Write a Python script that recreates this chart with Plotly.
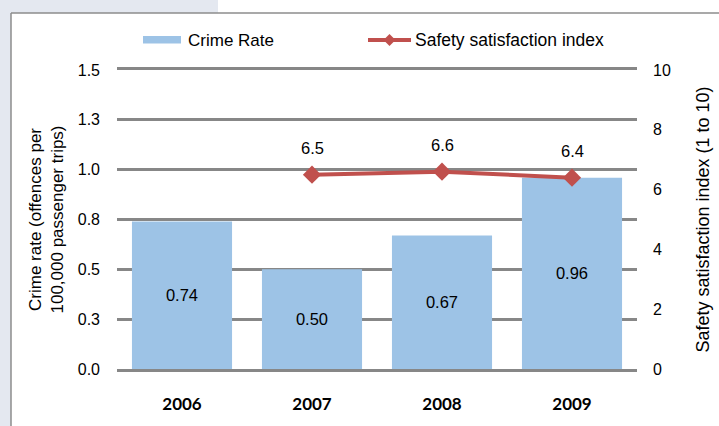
import plotly.graph_objects as go

# Data
years = ["2006", "2007", "2008", "2009"]
crime_rate = [0.74, 0.50, 0.67, 0.96]
satisfaction_years = ["2007", "2008", "2009"]
satisfaction_index = [6.5, 6.6, 6.4]

left_ticks = [0, 0.25, 0.5, 0.75, 1.0, 1.25, 1.5]
left_tick_text = ["0.0", "0.3", "0.5", "0.8", "1.0", "1.3", "1.5"]
right_ticks = [0, 2, 4, 6, 8, 10]

BAR_BLUE = "#9DC3E6"
LINE_RED = "#C0504D"
GRID_GRAY = "#878787"
FRAME_BG = "#E4E8F0"

W, H = 719, 426
ML, MR, MT, MB = 117, 82, 70, 57
PW, PH = W - ML - MR, H - MT - MB


def px(x):
    return (x - ML) / PW


def py(y):
    return (H - MB - y) / PH


fig = go.Figure()

fig.add_trace(go.Bar(
    x=years, y=crime_rate, name="Crime Rate",
    marker=dict(color=BAR_BLUE, line=dict(width=0)),
    text=[f"{v:.2f}" for v in crime_rate],
    textposition="inside", insidetextanchor="middle",
    textfont=dict(family="Liberation Sans, Arial", size=16.5, color="#000000"),
    showlegend=False,
))

fig.add_trace(go.Scatter(
    x=satisfaction_years, y=satisfaction_index, name="Safety satisfaction index",
    yaxis="y2", mode="lines+markers",
    line=dict(color=LINE_RED, width=4),
    marker=dict(symbol="diamond", size=14, color=LINE_RED),
    showlegend=False,
))

shapes = [
    # frame background strips
    dict(type="rect", xref="paper", yref="paper", layer="below",
         x0=px(0), x1=px(218), y0=py(13), y1=py(0),
         fillcolor=FRAME_BG, line=dict(width=0)),
    dict(type="rect", xref="paper", yref="paper", layer="below",
         x0=px(0), x1=px(11), y0=py(H), y1=py(0),
         fillcolor=FRAME_BG, line=dict(width=0)),
    # frame border
    dict(type="line", xref="paper", yref="paper", layer="below",
         x0=px(11), x1=px(W + 5), y0=py(13), y1=py(13),
         line=dict(color="#8C8C8C", width=1.5)),
    dict(type="line", xref="paper", yref="paper", layer="below",
         x0=px(11), x1=px(11), y0=py(13), y1=py(H + 5),
         line=dict(color="#8C8C8C", width=1.5)),
    # legend swatches
    dict(type="rect", xref="paper", yref="paper",
         x0=px(143), x1=px(181), y0=py(43.5), y1=py(36),
         fillcolor=BAR_BLUE, line=dict(width=0)),
    dict(type="line", xref="paper", yref="paper",
         x0=px(368), x1=px(411), y0=py(40), y1=py(40),
         line=dict(color=LINE_RED, width=4)),
    dict(type="path", xref="paper", yref="paper",
         path=(f"M {px(389.5)},{py(34)} L {px(395.5)},{py(40)} "
               f"L {px(389.5)},{py(46)} L {px(383.5)},{py(40)} Z"),
         fillcolor=LINE_RED, line=dict(width=0)),
]

label_font = dict(family="Liberation Sans, Arial", size=16.5, color="#000000")

annotations = [
    dict(xref="paper", yref="paper", x=px(186), y=py(40), xanchor="left", yanchor="middle",
         text="Crime Rate", showarrow=False,
         font=dict(family="Liberation Sans, Arial", size=17, color="#000000")),
    dict(xref="paper", yref="paper", x=px(413), y=py(40), xanchor="left", yanchor="middle",
         text="Safety satisfaction index", showarrow=False,
         font=dict(family="Liberation Sans, Arial", size=17.5, color="#000000")),
]

# value labels above the satisfaction-index points (category index on x)
for yr, v in zip(satisfaction_years, satisfaction_index):
    annotations.append(dict(
        xref="x", yref="y2", x=years.index(yr), y=v, yshift=27,
        text=f"{v:.1f}", showarrow=False, xanchor="center", yanchor="middle",
        font=label_font,
    ))

fig.update_layout(
    width=W, height=H,
    margin=dict(l=ML, r=MR, t=MT, b=MB, autoexpand=False),
    paper_bgcolor="#FFFFFF", plot_bgcolor="#FFFFFF",
    bargap=0.23,
    showlegend=False,
    shapes=shapes,
    annotations=annotations,
    xaxis=dict(
        type="category", categoryorder="array", categoryarray=years,
        range=[-0.5, len(years) - 0.5],
        showgrid=False, zeroline=False,
        # top and bottom rules double as the 1.5 and 0.0 gridlines
        showline=True, mirror=True, linecolor=GRID_GRAY, linewidth=3,
        ticks="", ticklabelstandoff=18,
        tickfont=dict(family="Lato", size=17, color="#000000", weight="bold"),
    ),
    yaxis=dict(
        range=[0, 1.5], tickvals=left_ticks, ticktext=left_tick_text,
        showgrid=True, gridcolor=GRID_GRAY, gridwidth=3,
        zeroline=False, showline=False, ticks="", ticklabelstandoff=16,
        tickfont=dict(family="Liberation Sans, Arial", size=16, color="#000000"),
        title=dict(text="Crime rate (offences per<br>100,000 passenger trips)",
                   standoff=9,
                   font=dict(family="Liberation Sans, Arial", size=17, color="#000000")),
    ),
    yaxis2=dict(
        range=[0, 10], tickvals=right_ticks, overlaying="y", side="right",
        showgrid=False, zeroline=False, showline=False, ticks="",
        ticklabelstandoff=15,
        tickfont=dict(family="Liberation Sans, Arial", size=16, color="#000000"),
        title=dict(text="Safety satisfaction index (1 to 10)", standoff=26,
                   font=dict(family="Liberation Sans, Arial", size=18, color="#000000")),
    ),
)

fig.write_html("out.html")
